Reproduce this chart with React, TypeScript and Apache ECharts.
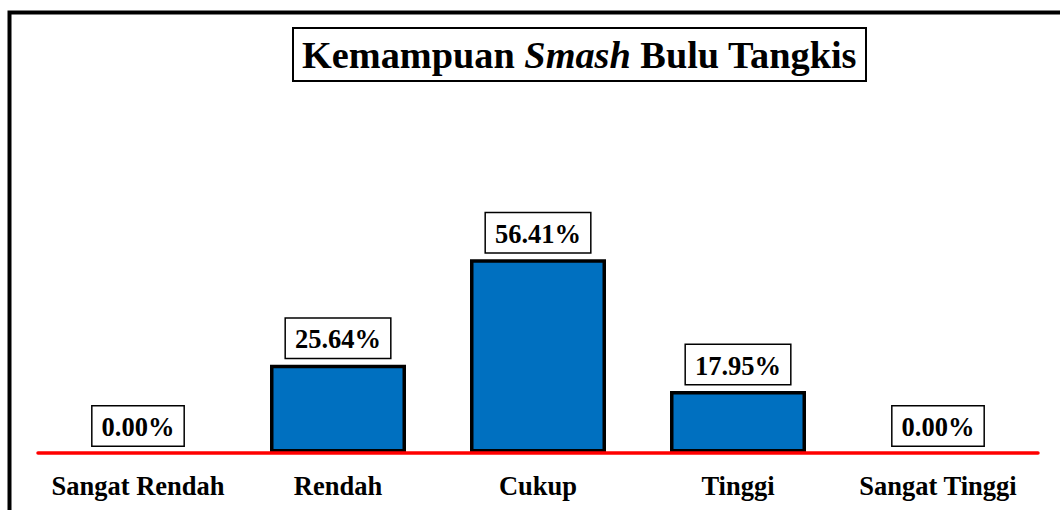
import React, { useEffect, useRef } from "react";
import * as echarts from "echarts";

const categories = ["Sangat Rendah", "Rendah", "Cukup", "Tinggi", "Sangat Tinggi"];
const percentages = [0.0, 25.64, 56.41, 17.95, 0.0];

const FONT = "'Liberation Serif', 'Times New Roman', serif";

export default function App() {
  const ref = useRef<HTMLDivElement>(null);

  useEffect(() => {
    document.body.style.margin = "0";
    const chart = echarts.init(ref.current!, null, { renderer: "svg" });
    chart.setOption({
      animation: false,
      backgroundColor: "#ffffff",
      title: {
        text: "{a|Kemampuan }{b|Smash}{a| Bulu Tangkis}",
        left: 293,
        top: 28,
        borderColor: "#000",
        borderWidth: 2,
        padding: [8, 9, 7, 9],
        textStyle: {
          rich: {
            a: { fontFamily: FONT, fontWeight: "bold", fontSize: 38.3, color: "#000", lineHeight: 38 },
            b: { fontFamily: FONT, fontWeight: "bold", fontStyle: "italic", fontSize: 38.3, color: "#000", lineHeight: 38 },
          },
        },
      },
      graphic: [
        {
          type: "rect",
          shape: { x: 9.5, y: 12.5, width: 1200, height: 1000 },
          style: { fill: "none", stroke: "#000", lineWidth: 4 },
          silent: true,
        },
      ],
      grid: { left: 38, right: 22, top: 110, bottom: 57.5, containLabel: false },
      xAxis: {
        type: "category",
        data: categories,
        z: 5,
        axisLine: { lineStyle: { color: "#ff0000", width: 3.5 } },
        axisTick: { show: false },
        axisLabel: {
          interval: 0,
          fontFamily: FONT,
          fontWeight: "bold",
          fontSize: 26.5,
          color: "#000",
          margin: 20,
        },
      },
      yAxis: {
        type: "value",
        min: 0,
        max: 100,
        show: false,
        splitLine: { show: false },
      },
      series: [
        {
          type: "bar",
          barWidth: "68%",
          data: percentages.map((v) => ({
            value: v,
            itemStyle: v === 0 ? { borderWidth: 0 } : undefined,
          })),
          itemStyle: { color: "#0070C0", borderColor: "#000", borderWidth: 3.5 },
          label: {
            show: true,
            position: "top",
            distance: 7,
            formatter: (p: any) => Number(p.value).toFixed(2) + "%",
            fontFamily: FONT,
            fontWeight: "bold",
            fontSize: 26.5,
            color: "#000",
            backgroundColor: "#fff",
            borderColor: "#000",
            borderWidth: 1.5,
            padding: [7, 9, 5, 9],
            lineHeight: 27,
          },
        },
      ],
    });
    return () => chart.dispose();
  }, []);

  return <div ref={ref} style={{ width: 1060, height: 510 }} />;
}
